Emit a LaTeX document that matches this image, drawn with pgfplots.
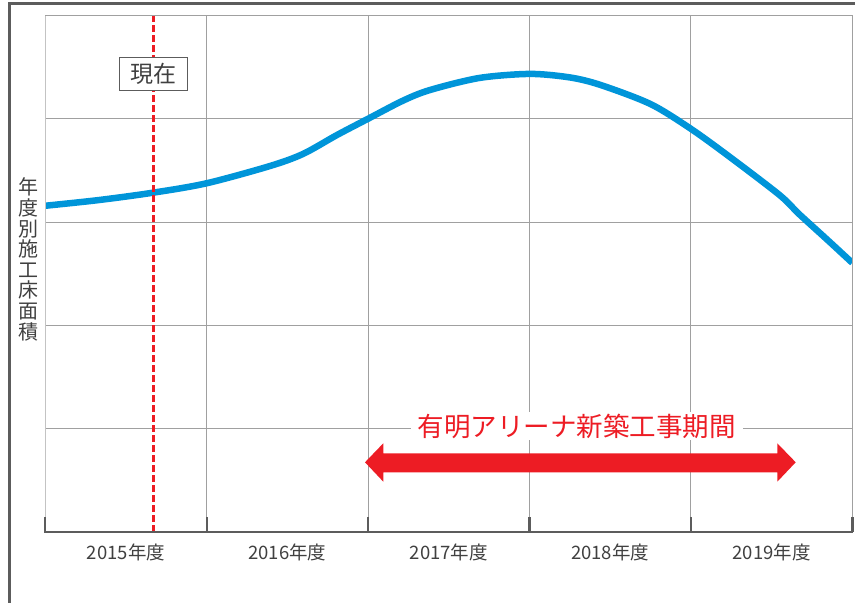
\documentclass[border=0pt]{standalone}
\usepackage{pgfplots}
\pgfplotsset{compat=1.18}
\usepackage{fontspec}
\setmainfont{Noto Sans CJK JP}
\definecolor{curveblue}{RGB}{0,149,217}
\definecolor{markred}{RGB}{237,28,36}
\definecolor{framegray}{RGB}{92,92,92}
\definecolor{textgray}{RGB}{64,64,64}
\definecolor{gridgray}{RGB}{160,160,160}
\definecolor{leftgray}{RGB}{195,195,195}

\begin{document}
\begin{tikzpicture}[x=1bp,y=1bp]
\begin{axis}[
  scale only axis, width=807bp, height=516.2bp,
  xmin=0, xmax=5, ymin=0, ymax=5,
  axis line style={draw=none},
  xtick={1,2,3,4}, xticklabels={},
  ytick={1,2,3,4}, yticklabels={},
  major tick length=0pt,
  grid=major, major grid style={gridgray, line width=0.9bp},
  extra x ticks={0.5,1.5,2.5,3.5,4.5},
  extra x tick labels={2015年度,2016年度,2017年度,2018年度,2019年度},
  extra x tick style={grid=none},
  xticklabel style={font=\fontsize{18.5bp}{20bp}\selectfont, text=textgray, anchor=center, yshift=-21bp},
]
\coordinate (O) at (rel axis cs:0,0);
\addplot[curveblue, line width=6.5bp, smooth] coordinates {
  (0,3.157) (0.33,3.212) (0.669,3.284) (1.0,3.375) (1.392,3.542) (1.597,3.659)
  (1.808,3.843) (2.005,4.004) (2.216,4.175) (2.383,4.278) (2.69,4.395)
  (3.003,4.434) (3.25,4.40) (3.44,4.327) (3.75,4.142) (4.0,3.902) (4.24,3.631)
  (4.55,3.26) (4.67,3.077) (4.84,2.835) (5.0,2.604)
};
\addplot[markred, line width=2.6bp, dash pattern=on 7bp off 3bp] coordinates {(0.669,0) (0.669,5)};
\node[draw=framegray, line width=1.2bp, fill=white, text=textgray,
      minimum width=68bp, minimum height=33bp, inner sep=0pt,
      font=\fontsize{23bp}{25bp}\selectfont] at (axis cs:0.669,4.433) {現在};
\end{axis}
\begin{scope}[shift={(O)}]
\begin{scope}[shift={(-45.3,-71.3)}]
% outer frame
\draw[framegray, line width=2.6bp, line join=miter] (9.7,0) -- (9.7,599.3) -- (856,599.3);
% axis frame
\draw[leftgray, line width=1.3bp] (45.3,71.3) -- (45.3,587.5);
\draw[gridgray, line width=1bp] (45.3,587.5) -- (852.3,587.5) -- (852.3,71.3);
\draw[framegray, line width=2.2bp] (44.2,71.3) -- (853.4,71.3);
\foreach \x in {45.3,206.7,368.1,529.5,690.9,852.3}
  \draw[framegray, line width=2.4bp] (\x,71.3) -- (\x,86);
% y label
\node[align=center, text=textgray, font=\fontsize{20bp}{20.6bp}\selectfont, inner sep=0pt]
  at (28.7,343.5) {年\\度\\別\\施\\工\\床\\面\\積};
% construction period arrow
\fill[markred] (365,140.7) -- (383.3,159.7) -- (383.3,149.7) -- (777.3,149.7) -- (777.3,159.7)
  -- (795.7,140.7) -- (777.3,121.3) -- (777.3,130.7) -- (383.3,130.7) -- (383.3,121.3) -- cycle;
\node[fill=white, text=markred, inner xsep=7bp, inner ysep=2bp,
      font=\fontsize{26.5bp}{28bp}\selectfont] at (576.5,177) {有明アリーナ新築工事期間};
\pgfresetboundingbox
\path (0,0) rectangle (855,603);
\end{scope}
\end{scope}
\end{tikzpicture}
\end{document}
